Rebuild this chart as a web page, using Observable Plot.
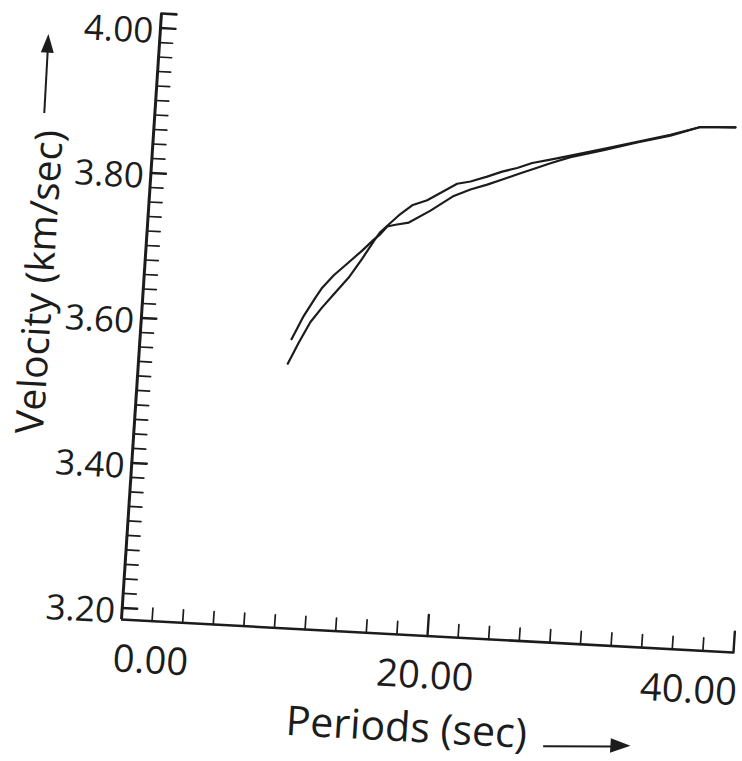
<!DOCTYPE html>
<html>
<head>
<meta charset="utf-8">
<script src="https://cdn.jsdelivr.net/npm/d3@7"></script>
<script src="https://cdn.jsdelivr.net/npm/@observablehq/plot@0.6"></script>
<style>
  html, body { margin: 0; padding: 0; background: #ffffff; }
  #chart { width: 742px; height: 761px; overflow: hidden; }
</style>
</head>
<body>
<div id="chart"></div>
<script>
// ---------------- data ----------------
const seriesNames = ["Curve 1", "Curve 2"];

const periods1 = [9.87, 10.57, 11.25, 11.65, 12.35, 13.27, 14.09, 14.80, 15.21, 15.62, 16.15, 17.01, 18.37, 19.82, 20.88, 21.95, 23.01, 24.07, 25.13, 25.98, 27.26, 29.39, 31.54, 33.67, 35.59, 37.87];
const velocity1 = [3.582, 3.615, 3.641, 3.655, 3.673, 3.692, 3.709, 3.725, 3.733, 3.744, 3.747, 3.751, 3.769, 3.791, 3.801, 3.809, 3.818, 3.827, 3.836, 3.843, 3.853, 3.865, 3.878, 3.890, 3.904, 3.906];

const periods2 = [9.73, 10.36, 11.03, 11.73, 12.43, 13.33, 14.13, 14.87, 15.20, 15.62, 16.32, 17.15, 18.11, 19.99, 20.85, 21.91, 22.87, 23.83, 24.79, 25.96, 27.26, 29.39, 31.54, 33.67, 35.59, 37.87];
const velocity2 = [3.548, 3.578, 3.607, 3.628, 3.647, 3.671, 3.698, 3.725, 3.736, 3.745, 3.760, 3.775, 3.783, 3.808, 3.812, 3.820, 3.828, 3.834, 3.842, 3.848, 3.855, 3.867, 3.879, 3.891, 3.904, 3.906];

const xTickLabels = ["0.00", "20.00", "40.00"];
const yTickLabels = ["3.20", "3.40", "3.60", "3.80", "4.00"];
const xTitle = "Periods (sec)";
const yTitle = "Velocity (km/sec)";

const xDomain = [0, 40];
const yDomain = [3.184, 4.02];

// minor tick positions (every 2 s and every 0.02 km/s)
const xMinorTicks = d3.range(1, 20).map(k => 2 * k).filter(v => v !== 20);
const xMajorTicks = [20, 40];
const yMinorTicks = d3.range(160, 201).map(k => k / 50).filter(v => !yTickLabels.includes(v.toFixed(2)));
const yMajorTicks = yTickLabels.map(Number);
const yCapTick = [yDomain[1]];

// ---------------- table for the library ----------------
const rows = [
  ...periods1.map((p, i) => ({series: seriesNames[0], period: p, velocity: velocity1[i]})),
  ...periods2.map((p, i) => ({series: seriesNames[1], period: p, velocity: velocity2[i]}))
];

const ink = "#1c1c1c";
const tickShape = {draw(ctx, l) { ctx.moveTo(0, 0); ctx.lineTo(0, -l); }};
const labelFont = "'Open Sans', 'DejaVu Sans', sans-serif";

const plot = Plot.plot({
  width: 742,
  height: 761,
  marginLeft: 121,
  marginRight: 9,
  marginTop: 13,
  marginBottom: 142,
  x: {domain: xDomain, axis: null},
  y: {domain: yDomain, axis: null},
  style: {background: "#ffffff", overflow: "visible", fontFamily: labelFont, color: ink},
  marks: [
    // axis lines
    Plot.ruleX([xDomain[0]], {stroke: ink, strokeWidth: 3}),
    Plot.ruleY([yDomain[0]], {stroke: ink, strokeWidth: 2.6}),
    // y ticks (inward)
    Plot.vector(yMinorTicks, {x: xDomain[0], y: d => d, rotate: 90, length: 13, anchor: "start", shape: tickShape, stroke: ink, strokeWidth: 1.7}),
    Plot.vector(yMajorTicks, {x: xDomain[0], y: d => d, rotate: 90, length: 15, anchor: "start", shape: tickShape, stroke: ink, strokeWidth: 2.4}),
    Plot.vector(yCapTick, {x: xDomain[0], y: d => d, rotate: 90, length: 15, anchor: "start", shape: tickShape, stroke: ink, strokeWidth: 2.6}),
    // x ticks (inward)
    Plot.vector(xMinorTicks, {x: d => d, y: yDomain[0], rotate: 0, length: 13, anchor: "start", shape: tickShape, stroke: ink, strokeWidth: 1.7}),
    Plot.vector(xMajorTicks, {x: d => d, y: yDomain[0], rotate: 0, length: 21, anchor: "start", shape: tickShape, stroke: ink, strokeWidth: 2.4}),
    // tick labels
    Plot.text(yTickLabels, {x: xDomain[0], y: d => +d, text: d => d, textAnchor: "end", dx: -7, dy: 4, fontSize: 35, fill: ink, ariaLabel: "ytick-label"}),
    Plot.text([xTickLabels[0]], {x: d => +d, y: yDomain[0], text: d => d, textAnchor: "start", dx: -6, dy: 40, fontSize: 38, fill: ink, ariaLabel: "xtick-label"}),
    Plot.text([xTickLabels[1]], {x: d => +d, y: yDomain[0], text: d => d, textAnchor: "middle", dx: 0, dy: 40, fontSize: 38, fill: ink, ariaLabel: "xtick-label"}),
    Plot.text([xTickLabels[2]], {x: d => +d, y: yDomain[0], text: d => d, textAnchor: "end", dx: 6, dy: 40, fontSize: 38, fill: ink, ariaLabel: "xtick-label"}),
    // axis titles
    Plot.text([xTitle], {frameAnchor: "bottom", lineAnchor: "middle", textAnchor: "middle", text: d => d, dx: -15, dy: 93, fontSize: 41, fill: ink, ariaLabel: "axis-title"}),
    Plot.text([yTitle], {frameAnchor: "left", lineAnchor: "middle", textAnchor: "middle", rotate: -90, text: d => d, dx: -103, dy: -29, fontSize: 39, fill: ink, ariaLabel: "axis-title-y"}),
    // the two dispersion curves
    Plot.line(rows, {x: "period", y: "velocity", z: "series", stroke: ink, strokeWidth: 2.2, strokeLinejoin: "round", strokeLinecap: "round"})
  ]
});

const svg = plot;
const NS = "http://www.w3.org/2000/svg";

// narrow the lettering a little, as in the drafted original
const squeeze = {"ytick-label": 1, "xtick-label": 0.9, "axis-title": 0.95, "axis-title-y": 0.97};
for (const [label, sx] of Object.entries(squeeze)) {
  svg.querySelectorAll(`g[aria-label="${label}"] text`).forEach(t => {
    const tr = t.getAttribute("transform") || "";
    const x = +(t.getAttribute("x") || 0), y = +(t.getAttribute("y") || 0);
    t.removeAttribute("x"); t.removeAttribute("y");
    t.setAttribute("transform", `${tr} translate(${x},${y}) scale(${sx},1)`);
  });
}

// arrows next to the axis titles
const ann = document.createElementNS(NS, "g");
ann.setAttribute("aria-label", "title-arrows");
const mk = (tag, attrs) => { const e = document.createElementNS(NS, tag); for (const k in attrs) e.setAttribute(k, attrs[k]); ann.appendChild(e); return e; };
mk("path", {d: "M550,723L621,719.6", stroke: ink, "stroke-width": 2, fill: "none"});
mk("path", {d: "M637,718L617,711.5L617,726Z", fill: ink});
mk("path", {d: "M11.3,119L10.6,56", stroke: ink, "stroke-width": 2, fill: "none"});
mk("path", {d: "M10.2,40L3.8,58.5L16.8,58.5Z", fill: ink});
svg.appendChild(ann);

// the scanned figure is slightly sheared: apply the same affine distortion
const wrap = document.createElementNS(NS, "g");
wrap.setAttribute("transform", "matrix(1,0.054,-0.066,1,40.85,-6.53)");
[...svg.childNodes].forEach(n => { if (!(n.tagName && n.tagName.toLowerCase() === "style")) wrap.appendChild(n); });
svg.appendChild(wrap);

document.getElementById("chart").appendChild(svg);
</script>
</body>
</html>
